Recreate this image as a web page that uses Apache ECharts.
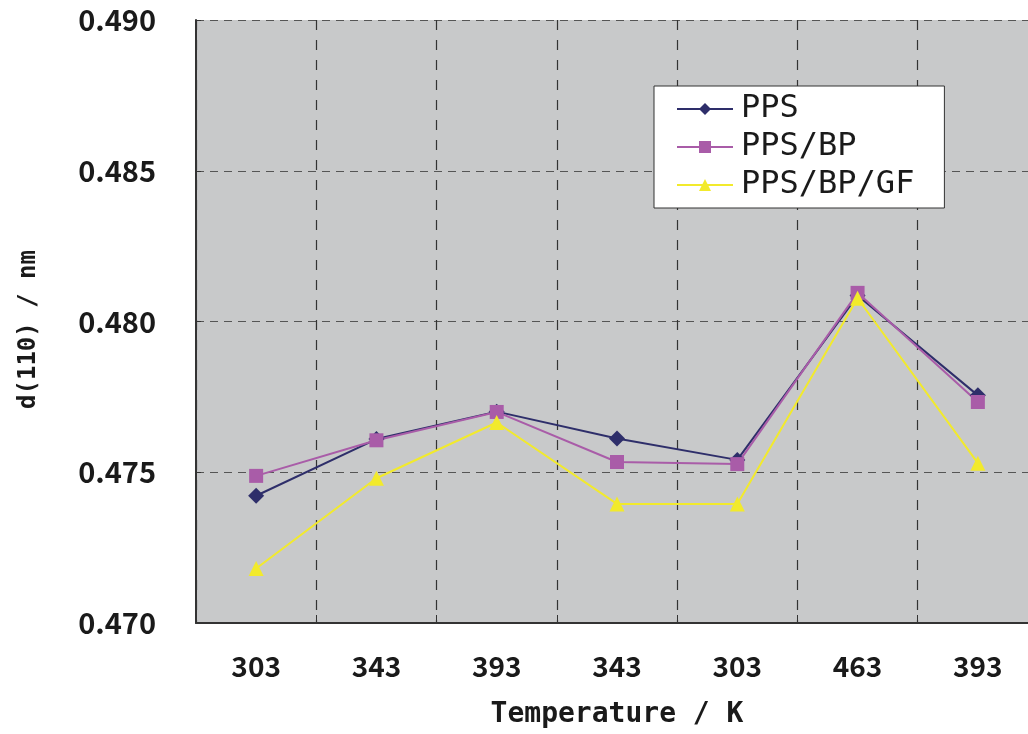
<!DOCTYPE html>
<html>
<head>
<meta charset="utf-8">
<script src="https://cdn.jsdelivr.net/npm/echarts@6/dist/echarts.min.js"></script>
<style>
html,body{margin:0;padding:0;background:#fff;overflow:hidden;width:1028px;height:734px;}
#chart{width:1038px;height:734px;}
</style>
</head>
<body>
<div id="chart"></div>
<script>
const categories = ['303', '343', '393', '343', '303', '463', '393'];
const seriesNames = ['PPS', 'PPS/BP', 'PPS/BP/GF'];
const ppsValues = [0.47422, 0.47610, 0.47701, 0.47612, 0.47541, 0.48086, 0.47755];
const ppsBpValues = [0.47488, 0.47606, 0.47700, 0.47534, 0.47527, 0.48095, 0.47733];
const ppsBpGfValues = [0.47181, 0.47480, 0.47665, 0.47395, 0.47395, 0.48077, 0.47530];
const yTicks = { min: 0.470, max: 0.490, interval: 0.005 };

const font = '"Noto Sans CJK JP", "Noto Sans", sans-serif';
const mono = '"DejaVu Sans Mono", monospace';
const chart = echarts.init(document.getElementById('chart'), null, { renderer: 'canvas' });

function mk(name, data, color, symbol, size) {
  return {
    name: name,
    type: 'line',
    data: data,
    symbol: symbol,
    symbolSize: size,
    itemStyle: { color: color },
    lineStyle: { color: color, width: 2 },
    emphasis: { disabled: true },
    animation: false
  };
}

chart.setOption({
  backgroundColor: '#ffffff',
  animation: false,
  grid: {
    left: 196, top: 20, right: 0, bottom: 107,
    show: true, backgroundColor: '#c8c9ca', borderWidth: 0
  },
  legend: {
    orient: 'vertical',
    left: 654, top: 86,
    padding: [7, 30, 7, 22],
    itemGap: 6,
    itemWidth: 56,
    itemHeight: 15,
    backgroundColor: '#ffffff',
    borderColor: '#333333',
    borderWidth: 1,
    borderRadius: 0,
    textStyle: { fontFamily: mono, fontSize: 32, color: '#1a1a1a', padding: [0, 0, 0, 3] },
    data: seriesNames
  },
  xAxis: {
    type: 'category',
    data: categories,
    boundaryGap: true,
    name: 'Temperature / K',
    nameLocation: 'middle',
    nameGap: 78,
    nameTextStyle: { fontFamily: mono, fontSize: 28, fontWeight: 'bold', color: '#1a1a1a' },
    axisLine: { show: true, lineStyle: { color: '#333', width: 2 } },
    axisTick: { show: true, inside: true, length: 8, lineStyle: { color: '#333' } },
    axisLabel: { fontFamily: font, fontSize: 28, fontWeight: 'bold', color: '#1a1a1a', margin: 29 },
    splitLine: { show: true, lineStyle: { color: '#333', type: [10, 10], width: 1.2 } }
  },
  yAxis: {
    type: 'value',
    min: yTicks.min, max: yTicks.max, interval: yTicks.interval,
    name: 'd(110) / nm',
    nameLocation: 'middle',
    nameGap: 155,
    nameRotate: 90,
    nameTextStyle: { fontFamily: mono, fontSize: 24, fontWeight: 'bold', color: '#1a1a1a', padding: [0, 16, 0, 0] },
    axisLine: { show: true, lineStyle: { color: '#333', width: 2 } },
    axisTick: { show: true, inside: true, length: 5, lineStyle: { color: '#333' } },
    axisLabel: {
      fontFamily: font, fontSize: 29, fontWeight: 'bold', color: '#1a1a1a', margin: 40,
      formatter: v => v.toFixed(3)
    },
    splitLine: { show: true, lineStyle: { color: '#555', type: [8, 6], width: 1.2 } }
  },
  series: [
    mk(seriesNames[0], ppsValues, '#2e2e6a', 'diamond', 16),
    mk(seriesNames[1], ppsBpValues, '#a95ca8', 'rect', 14),
    mk(seriesNames[2], ppsBpGfValues, '#f2ea2c', 'triangle', 15)
  ]
});
</script>
</body>
</html>
